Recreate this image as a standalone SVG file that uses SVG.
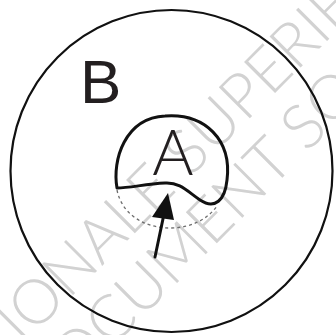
<svg xmlns="http://www.w3.org/2000/svg" width="336" height="335" viewBox="0 0 336 335">
<style>
.wm{font-family:"Lato","Liberation Sans",sans-serif;font-weight:300;fill:#d2d2d2;font-size:62px}
.ln{fill:none;stroke:#111;stroke-linecap:round;stroke-linejoin:round}
.lbl{font-family:"Liberation Sans",Arial,sans-serif;fill:#231f20}
</style>
<rect width="336" height="335" fill="#fff"/>
<g id="watermark">
<text class="wm" x="-3" y="371" transform="rotate(-45 -3 371)">TIONALE SUPERIE</text>
<text class="wm" x="43" y="417" transform="rotate(-45 43 417)">DOCUMENT SO</text>
</g>
<g id="nodeB">
<circle class="ln" cx="171.5" cy="171" r="161" stroke-width="2.2"/>
<text class="lbl" x="80" y="103" font-size="62">B</text>
</g>
<g id="nodeA">
<path class="ln" stroke-width="3" d="M117,188 C112,160 125,118 165,116 C205,113 232,140 227,180 C225,200 215,210 200,200 C188,192 180,182 165,183 C145,184 130,188 117,188 Z"/>
<text class="lbl" x="173" y="175" font-size="63" text-anchor="middle" style="font-family:Lato,'Liberation Sans',sans-serif;font-weight:300">A</text>
</g>
<g id="connectors">
<path d="M117,190 C122,215 145,228 170,228 C190,228 207,220 217,206" fill="none" stroke="#6d6d6d" stroke-width="1.3" stroke-dasharray="3,3"/>
<line class="ln" x1="155" y1="257" x2="164" y2="214" stroke-width="3"/>
<polygon points="168,193 152,217 174,220" fill="#111"/>
</g>
</svg>
